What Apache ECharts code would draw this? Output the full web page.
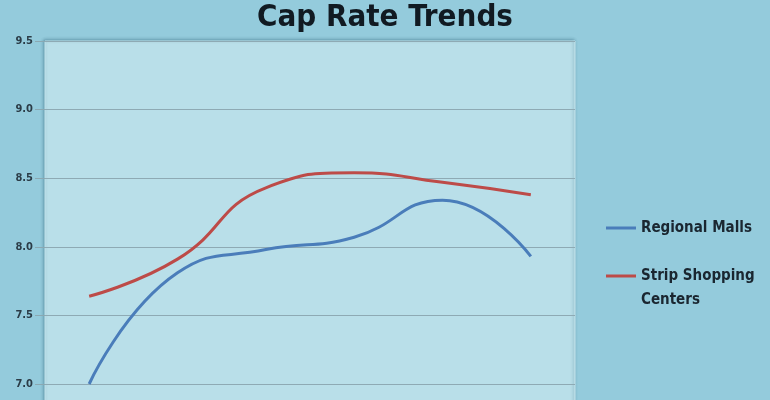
<!DOCTYPE html>
<html>
<head>
<meta charset="utf-8">
<script src="https://cdn.jsdelivr.net/npm/echarts@6/dist/echarts.min.js"></script>
<style>
html,body{margin:0;padding:0;background:#94cbdc;}
#c{width:770px;height:400px;}
</style>
</head>
<body>
<div id="c"></div>
<script>
var categories = ['2005', '2006', '2007', '2008', '2009', '2010'];
var regionalMalls = [7.0, 7.81, 7.98, 8.07, 8.34, 7.93];
var stripCenters = [7.64, 7.91, 8.43, 8.54, 8.47, 8.38];
var yTicks = { min: 6.5, max: 9.5, interval: 0.5 };

var condensed = '"Liberation Sans Narrow", "DejaVu Sans Condensed", "Roboto Condensed", sans-serif';
var chart = echarts.init(document.getElementById('c'), null, { renderer: 'canvas' });
chart.setOption({
  backgroundColor: '#94cbdc',
  animation: false,
  title: {
    text: 'Cap Rate Trends',
    left: 'center',
    top: 2,
    padding: 0,
    textStyle: { fontFamily: condensed, fontWeight: 'bold', fontSize: 31, color: '#111a22' }
  },
  legend: [
    {
      data: ['Regional Malls'],
      orient: 'vertical',
      left: 606,
      top: 220,
      padding: 0,
      icon: 'rect',
      itemWidth: 30,
      itemHeight: 3,
      selectedMode: false,
      textStyle: { fontFamily: condensed, fontWeight: 'bold', fontSize: 15, lineHeight: 16, color: '#1a2630' }
    },
    {
      data: ['Strip Shopping Centers'],
      orient: 'vertical',
      left: 606,
      top: 240,
      padding: 0,
      icon: 'rect',
      itemWidth: 30,
      itemHeight: 3,
      selectedMode: false,
      formatter: function (n) { return n === 'Strip Shopping Centers' ? '\nStrip Shopping\nCenters' : n; },
      textStyle: { fontFamily: condensed, fontWeight: 'bold', fontSize: 15, lineHeight: 24, color: '#1a2630' }
    }
  ],
  grid: {
    show: true,
    left: 45,
    right: 195,
    top: 41,
    bottom: -52.6,
    outerBoundsMode: 'none',
    containLabel: false,
    backgroundColor: '#b9dfe9',
    borderColor: '#c6e6ee',
    borderWidth: 1,
    shadowColor: 'rgba(40,90,110,0.45)',
    shadowBlur: 3,
    shadowOffsetX: -1,
    shadowOffsetY: -1
  },
  xAxis: {
    type: 'category',
    data: categories,
    boundaryGap: true,
    axisLine: { show: false },
    axisTick: { show: false },
    axisLabel: { show: true, color: '#2d3e48' }
  },
  yAxis: {
    type: 'value',
    min: yTicks.min,
    max: yTicks.max,
    interval: yTicks.interval,
    axisLine: { show: false },
    axisTick: { show: true, length: 10, lineStyle: { color: '#8aa8b2', width: 1 } },
    axisLabel: {
      margin: 12,
      formatter: function (v) { return v.toFixed(1); },
      fontFamily: condensed, fontWeight: 'bold', fontSize: 11, color: '#2b3c47'
    },
    splitLine: { show: true, lineStyle: { color: '#8eaab4', width: 1.2 } }
  },
  series: [
    {
      name: 'Regional Malls',
      type: 'line',
      data: regionalMalls,
      smooth: 0.5,
      showSymbol: false,
      lineStyle: { color: '#4a7dba', width: 3 },
      itemStyle: { color: '#4a7dba' }
    },
    {
      name: 'Strip Shopping Centers',
      type: 'line',
      data: stripCenters,
      smooth: 0.5,
      showSymbol: false,
      lineStyle: { color: '#bd4b48', width: 3 },
      itemStyle: { color: '#bd4b48' }
    }
  ]
});
</script>
</body>
</html>
